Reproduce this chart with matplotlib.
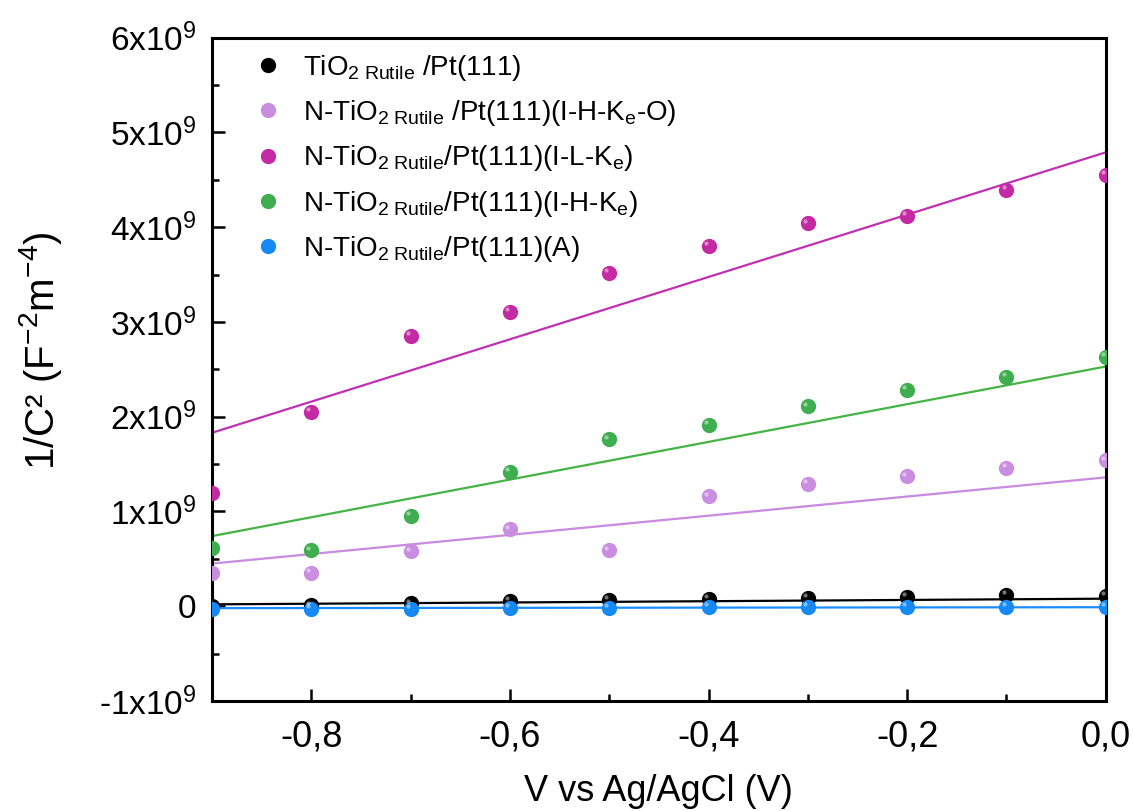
import numpy as np
import matplotlib
matplotlib.use("Agg")
import matplotlib.pyplot as plt
import matplotlib.transforms as mtransforms
from matplotlib.ticker import MultipleLocator, FuncFormatter

plt.rcParams['font.family'] = ['Liberation Sans', 'DejaVu Sans']
plt.rcParams['mathtext.fontset'] = 'custom'
plt.rcParams['mathtext.rm'] = 'Liberation Sans'
plt.rcParams['mathtext.it'] = 'Liberation Sans'
plt.rcParams['mathtext.default'] = 'regular'

# potential (V vs Ag/AgCl)
V = [-0.9, -0.8, -0.7, -0.6, -0.5, -0.4, -0.3, -0.2, -0.1, 0.0]

# 1/C^2 data, in units of 1e9 F^-2 m^-4
tio2 = [0.00, 0.01, 0.03, 0.06, 0.07, 0.08, 0.09, 0.10, 0.12, 0.11]
n_iheo = [0.35, 0.35, 0.58, 0.81, 0.59, 1.16, 1.29, 1.37, 1.46, 1.54]
n_ilke = [1.20, 2.05, 2.85, 3.11, 3.52, 3.80, 4.04, 4.12, 4.39, 4.55]
n_ihke = [0.61, 0.59, 0.95, 1.42, 1.76, 1.91, 2.11, 2.28, 2.42, 2.63]
n_a = [-0.03, -0.03, -0.03, -0.02, -0.02, -0.01, -0.01, -0.01, -0.01, -0.01]

# linear fit end points (same units)
fit_V = [-0.9, 0.0]
fit_tio2 = [0.02, 0.08]
fit_iheo = [0.45, 1.36]
fit_ilke = [1.83, 4.79]
fit_ihke = [0.74, 2.53]
fit_a = [-0.02, -0.01]

labels = [r"TiO$_{2\ Rutile}$ /Pt(111)",
          r"N-TiO$_{2\ Rutile}$ /Pt(111)(I-H-K$_e$-O)",
          r"N-TiO$_{2\ Rutile}$/Pt(111)(I-L-K$_e$)",
          r"N-TiO$_{2\ Rutile}$/Pt(111)(I-H-K$_e$)",
          r"N-TiO$_{2\ Rutile}$/Pt(111)(A)"]
colors = ['#000000', '#c98ee0', '#c42aa4', '#3fae4e', '#1689f5']
line_colors = ['#000000', '#c88be0', '#c030b0', '#45b345', '#1a8cff']
series = [tio2, n_iheo, n_ilke, n_ihke, n_a]
fits = [fit_tio2, fit_iheo, fit_ilke, fit_ihke, fit_a]

fig = plt.figure(figsize=(11.33, 8.11), dpi=100)
ax = fig.add_axes([0.187, 0.1356, 0.789, 0.818])

scale = 1e9
shift = ax.transData + mtransforms.ScaledTranslation(-2 / 72, 2 / 72, fig.dpi_scale_trans)
for ys, fy, c, lc, lab in zip(series, fits, colors, line_colors, labels):
    ax.plot(fit_V, np.array(fy) * scale, color=lc, lw=1.6, zorder=2)
    ax.plot(V, np.array(ys) * scale, 'o', ms=11, color=c, mec='none',
            label=lab, zorder=3)
    # small highlight to mimic the shaded spheres
    ax.plot(V, np.array(ys) * scale, 'o', ms=3, color='white', alpha=0.45,
            mec='none', zorder=4, transform=shift)

ax.set_xlim(-0.9, 0.0)
ax.set_ylim(-1e9, 6e9)

ax.xaxis.set_major_locator(MultipleLocator(0.2))
ax.xaxis.set_minor_locator(MultipleLocator(0.1))
ax.yaxis.set_major_locator(MultipleLocator(1e9))
ax.yaxis.set_minor_locator(MultipleLocator(0.5e9))


def xfmt(v, pos):
    return f"{v:.1f}".replace('.', ',').replace('-0,0', '0,0')


def yfmt(v, pos):
    n = int(round(v / 1e9))
    if n == 0:
        return "0"
    return f"{n}x10$^9$"


ax.xaxis.set_major_formatter(FuncFormatter(xfmt))
ax.yaxis.set_major_formatter(FuncFormatter(yfmt))

ax.tick_params(which='both', direction='in', top=False, right=False, width=1.8)
ax.tick_params(which='major', length=9)
ax.tick_params(which='minor', length=5)
ax.tick_params(axis='x', labelsize=26, pad=13)
ax.tick_params(axis='y', labelsize=24, pad=11)
for s in ax.spines.values():
    s.set_linewidth(2.2)

ax.set_xlabel("V vs Ag/AgCl (V)", fontsize=26, labelpad=14)
ax.set_ylabel(r"1/C² (F$^{-2}$m$^{-4}$)", fontsize=29)
ax.yaxis.set_label_coords(-0.165, 0.528)

leg = ax.legend(loc='upper left', frameon=False, fontsize=20, handlelength=1.0,
                handletextpad=0.75, labelspacing=0.55, borderaxespad=0.0,
                bbox_to_anchor=(0.035, 0.994))

fig.savefig("out.png", dpi=100)
